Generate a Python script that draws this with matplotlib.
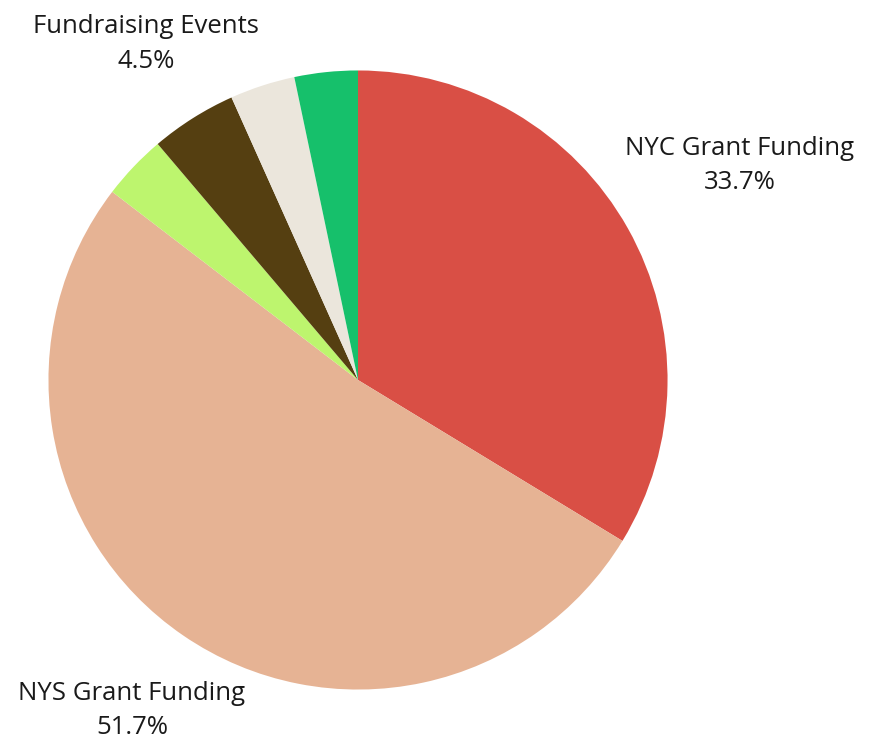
"""Pie chart of funding sources."""

import numpy as np
import matplotlib.pyplot as plt

fontes = ["NYC Grant Funding", "NYS Grant Funding", "Other Grants",
          "Fundraising Events", "Donations", "Other Income"]
valores = [33.7, 51.7, 3.4, 4.5, 3.4, 3.3]
cores = ["#d94f45", "#e6b394", "#bdf56e", "#553f11", "#ebe6dc", "#16c06b"]
mostrar = [True, True, False, True, False, False]
dist = [1.42, 1.30, 1.3, 1.29, 1.3, 1.3]

fig = plt.figure(figsize=(8.8, 7.37), dpi=100)
ax = fig.add_axes([0, 0, 1, 1])
wedges, _ = ax.pie(valores, colors=cores, startangle=90, counterclock=False,
                   radius=1.005, wedgeprops=dict(linewidth=0))

for w, nome, v, d, m in zip(wedges, fontes, valores, dist, mostrar):
    if not m:
        continue
    ang = np.deg2rad((w.theta1 + w.theta2) / 2)
    ax.text(d * np.cos(ang), d * np.sin(ang), f"{nome}\n{v}%",
            ha="center", va="center", fontsize=18.5, family="Open Sans",
            color="#1a1a1a", linespacing=1.5)

ax.set_xlim(-358 / 308, (880 - 358) / 308)
ax.set_ylim(-(737 - 380) / 308, 380 / 308)
ax.set_aspect("equal")
ax.axis("off")

fig.savefig("out.png", dpi=100, facecolor="white")
